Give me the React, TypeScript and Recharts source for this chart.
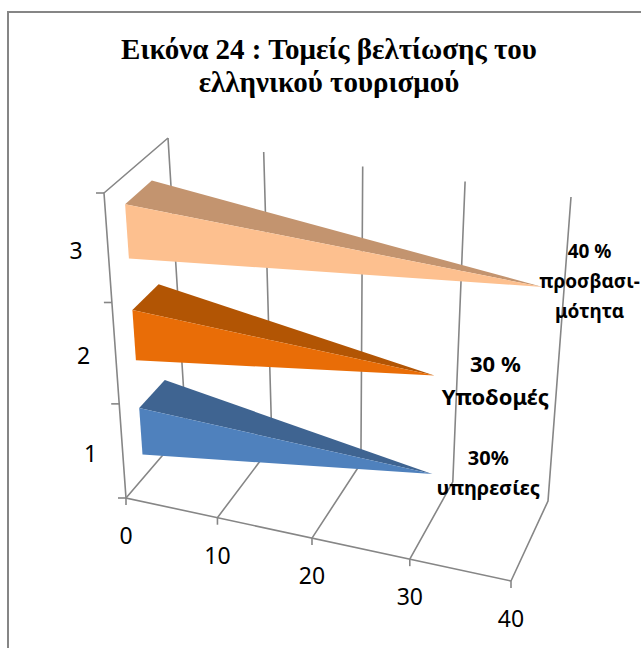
import React from 'react';
import { BarChart, Bar, XAxis, YAxis, CartesianGrid, LabelList } from 'recharts';

const categories = ['1', '2', '3'];
const values = [30, 30, 40];
const valueTicks = [0, 10, 20, 30, 40];
const dataLabels = [['30%', 'υπηρεσίες'], ['30 %', 'Υποδομές'], ['40 %', 'προσβασι-', 'μότητα']];
const titleLines = ['Εικόνα 24 : Τομείς βελτίωσης του', 'ελληνικού τουρισμού'];

const frontColors = ['#4F81BD', '#E96D07', '#FDC08F'];
const topColors = ['#3F6491', '#B25504', '#C3946F'];
const axisColor = '#868686';
const labelFont = '"Noto Sans", sans-serif';

const W = 641;
const H = 648;
// the axes take 1px each, so the flat plot rectangle stays at 100,100
const M = { top: 100, right: 100, bottom: 99, left: 99 };
const PX = 100;
const PY = 100;
const PW = W - 200;
const PH = H - 200;

// the flat plot rectangle gets mapped onto the 3D box of the picture
const box = {
  f00: [126, 498], f10: [511, 581], f01: [104, 193], f11: [520, 263],
  b00: [186, 428], b10: [548, 501], b01: [168, 138], b11: [571, 197],
};
const warp = (p: number, r: number) => p / (p + r * (1 - p));
const lerp = (a: number[], b: number[], s: number) => [a[0] + (b[0] - a[0]) * s, a[1] + (b[1] - a[1]) * s];
const project = (u: number, t: number, d: number) => {
  const su = warp(u, 1.07);
  const st = warp(t, 1.12);
  const front = lerp(lerp(box.f00, box.f10, su), lerp(box.f01, box.f11, su), st);
  const back = lerp(lerp(box.b00, box.b10, su), lerp(box.b01, box.b11, su), st);
  return lerp(front, back, d);
};
const toU = (x: number) => (x - PX) / PW;
const toT = (y: number) => 1 - (y - PY) / PH;
const pts = (list: number[][]) => list.map((p) => p[0].toFixed(1) + ',' + p[1].toFixed(1)).join(' ');

const Wedge = (props: any) => {
  const { x, y, width, height, index } = props;
  const uEnd = toU(x + width);
  const tTop = toT(y);
  const tBot = toT(y + height);
  const u0 = toU(x);
  const tip = project(uEnd, (tTop + tBot) / 2, 0.5);
  const frontTop = project(u0, tTop, 0.3);
  const frontBot = project(u0, tBot, 0.3);
  const backTop = project(u0, tTop, 0.72);
  return (
    <g>
      <polygon points={pts([frontTop, backTop, tip])} fill={topColors[index]} />
      <polygon points={pts([frontTop, frontBot, tip])} fill={frontColors[index]} />
    </g>
  );
};

const wallLine = (props: any) => {
  const u = toU(props.x1);
  const isFirst = Math.abs(u) < 0.001;
  return (
    <g key={props.key} stroke={axisColor} strokeWidth={1.6} fill="none">
      <polyline points={pts([project(u, 0, 0), project(u, 0, 1), project(u, 1, 1)])} />
      {isFirst && <polyline points={pts([project(0, 1, 1), project(0, 1, 0), project(0, 0, 0), project(1, 0, 0)])} />}
    </g>
  );
};

const ValueTick = (props: any) => {
  const p = project(toU(props.x), 0, 0);
  return (
    <g>
      <line x1={p[0]} y1={p[1]} x2={p[0]} y2={p[1] + 7} stroke={axisColor} strokeWidth={1.6} />
      <text x={p[0]} y={p[1] + 37} textAnchor="middle" dominantBaseline="central" fontSize={23} fontFamily={labelFont} fill="#000">
        {props.payload.value}
      </text>
    </g>
  );
};

const CategoryTick = (props: any) => {
  const step = 1 / categories.length;
  const t = toT(props.y);
  const mid = project(0, t, 0);
  const upper = project(0, t + step / 2, 0);
  const lower = project(0, t - step / 2, 0);
  return (
    <g>
      <line x1={upper[0] - 8} y1={upper[1]} x2={upper[0]} y2={upper[1]} stroke={axisColor} strokeWidth={1.6} />
      {props.index === 0 && <line x1={lower[0] - 8} y1={lower[1]} x2={lower[0]} y2={lower[1]} stroke={axisColor} strokeWidth={1.6} />}
      <text x={mid[0] - 32} y={mid[1] + 1} textAnchor="middle" dominantBaseline="central" fontSize={23} fontFamily={labelFont} fill="#000">
        {props.payload.value}
      </text>
    </g>
  );
};

// where each data label sits relative to the tip of its bar: dx, dy, line gap, font size
const labelNudge = [[56, -17, 30, 20], [61, -13, 33, 22], [47, -36, 30, 19]];

const TipLabel = (props: any) => {
  const { x, y, width, height, index } = props;
  const tip = project(toU(x + width), toT(y + height / 2), 0.5);
  const [dx, dy, gap, size] = labelNudge[index];
  return (
    <text textAnchor="middle" fontSize={size} fontWeight="bold" fontFamily={labelFont} fill="#000">
      {dataLabels[index].map((line, i) => (
        <tspan key={line} x={tip[0] + dx} y={tip[1] + dy + i * gap} dominantBaseline="central">
          {line}
        </tspan>
      ))}
    </text>
  );
};

const chartData = categories.map((name, i) => ({ name, value: values[i] }));

export default function App() {
  return (
    <div style={{ position: 'absolute', left: 0, top: 0, width: W, height: H, overflow: 'hidden', background: '#fff' }}>
      <BarChart width={W} height={H} data={chartData} layout="vertical" margin={M} barCategoryGap="25%">
        <CartesianGrid horizontal={false} vertical={wallLine} />
        <XAxis type="number" domain={[0, 40]} ticks={valueTicks} height={1} axisLine={false} tickLine={false} tick={<ValueTick />} interval={0} />
        <YAxis type="category" dataKey="name" reversed width={1} axisLine={false} tickLine={false} tick={<CategoryTick />} interval={0} />
        <Bar dataKey="value" isAnimationActive={false} shape={<Wedge />}>
          <LabelList dataKey="value" content={<TipLabel />} />
        </Bar>
      </BarChart>
      <div style={{ position: 'absolute', left: 7, top: 11, width: W, height: H, borderLeft: `2px solid ${axisColor}`, borderTop: `2px solid ${axisColor}` }} />
      <div style={{ position: 'absolute', left: 0, top: 33, width: 658, textAlign: 'center', fontFamily: '"Liberation Serif", serif', fontWeight: 'bold', fontSize: 29, lineHeight: '33px', color: '#000' }}>
        {titleLines.map((line) => (
          <div key={line}>{line}</div>
        ))}
      </div>
    </div>
  );
}
